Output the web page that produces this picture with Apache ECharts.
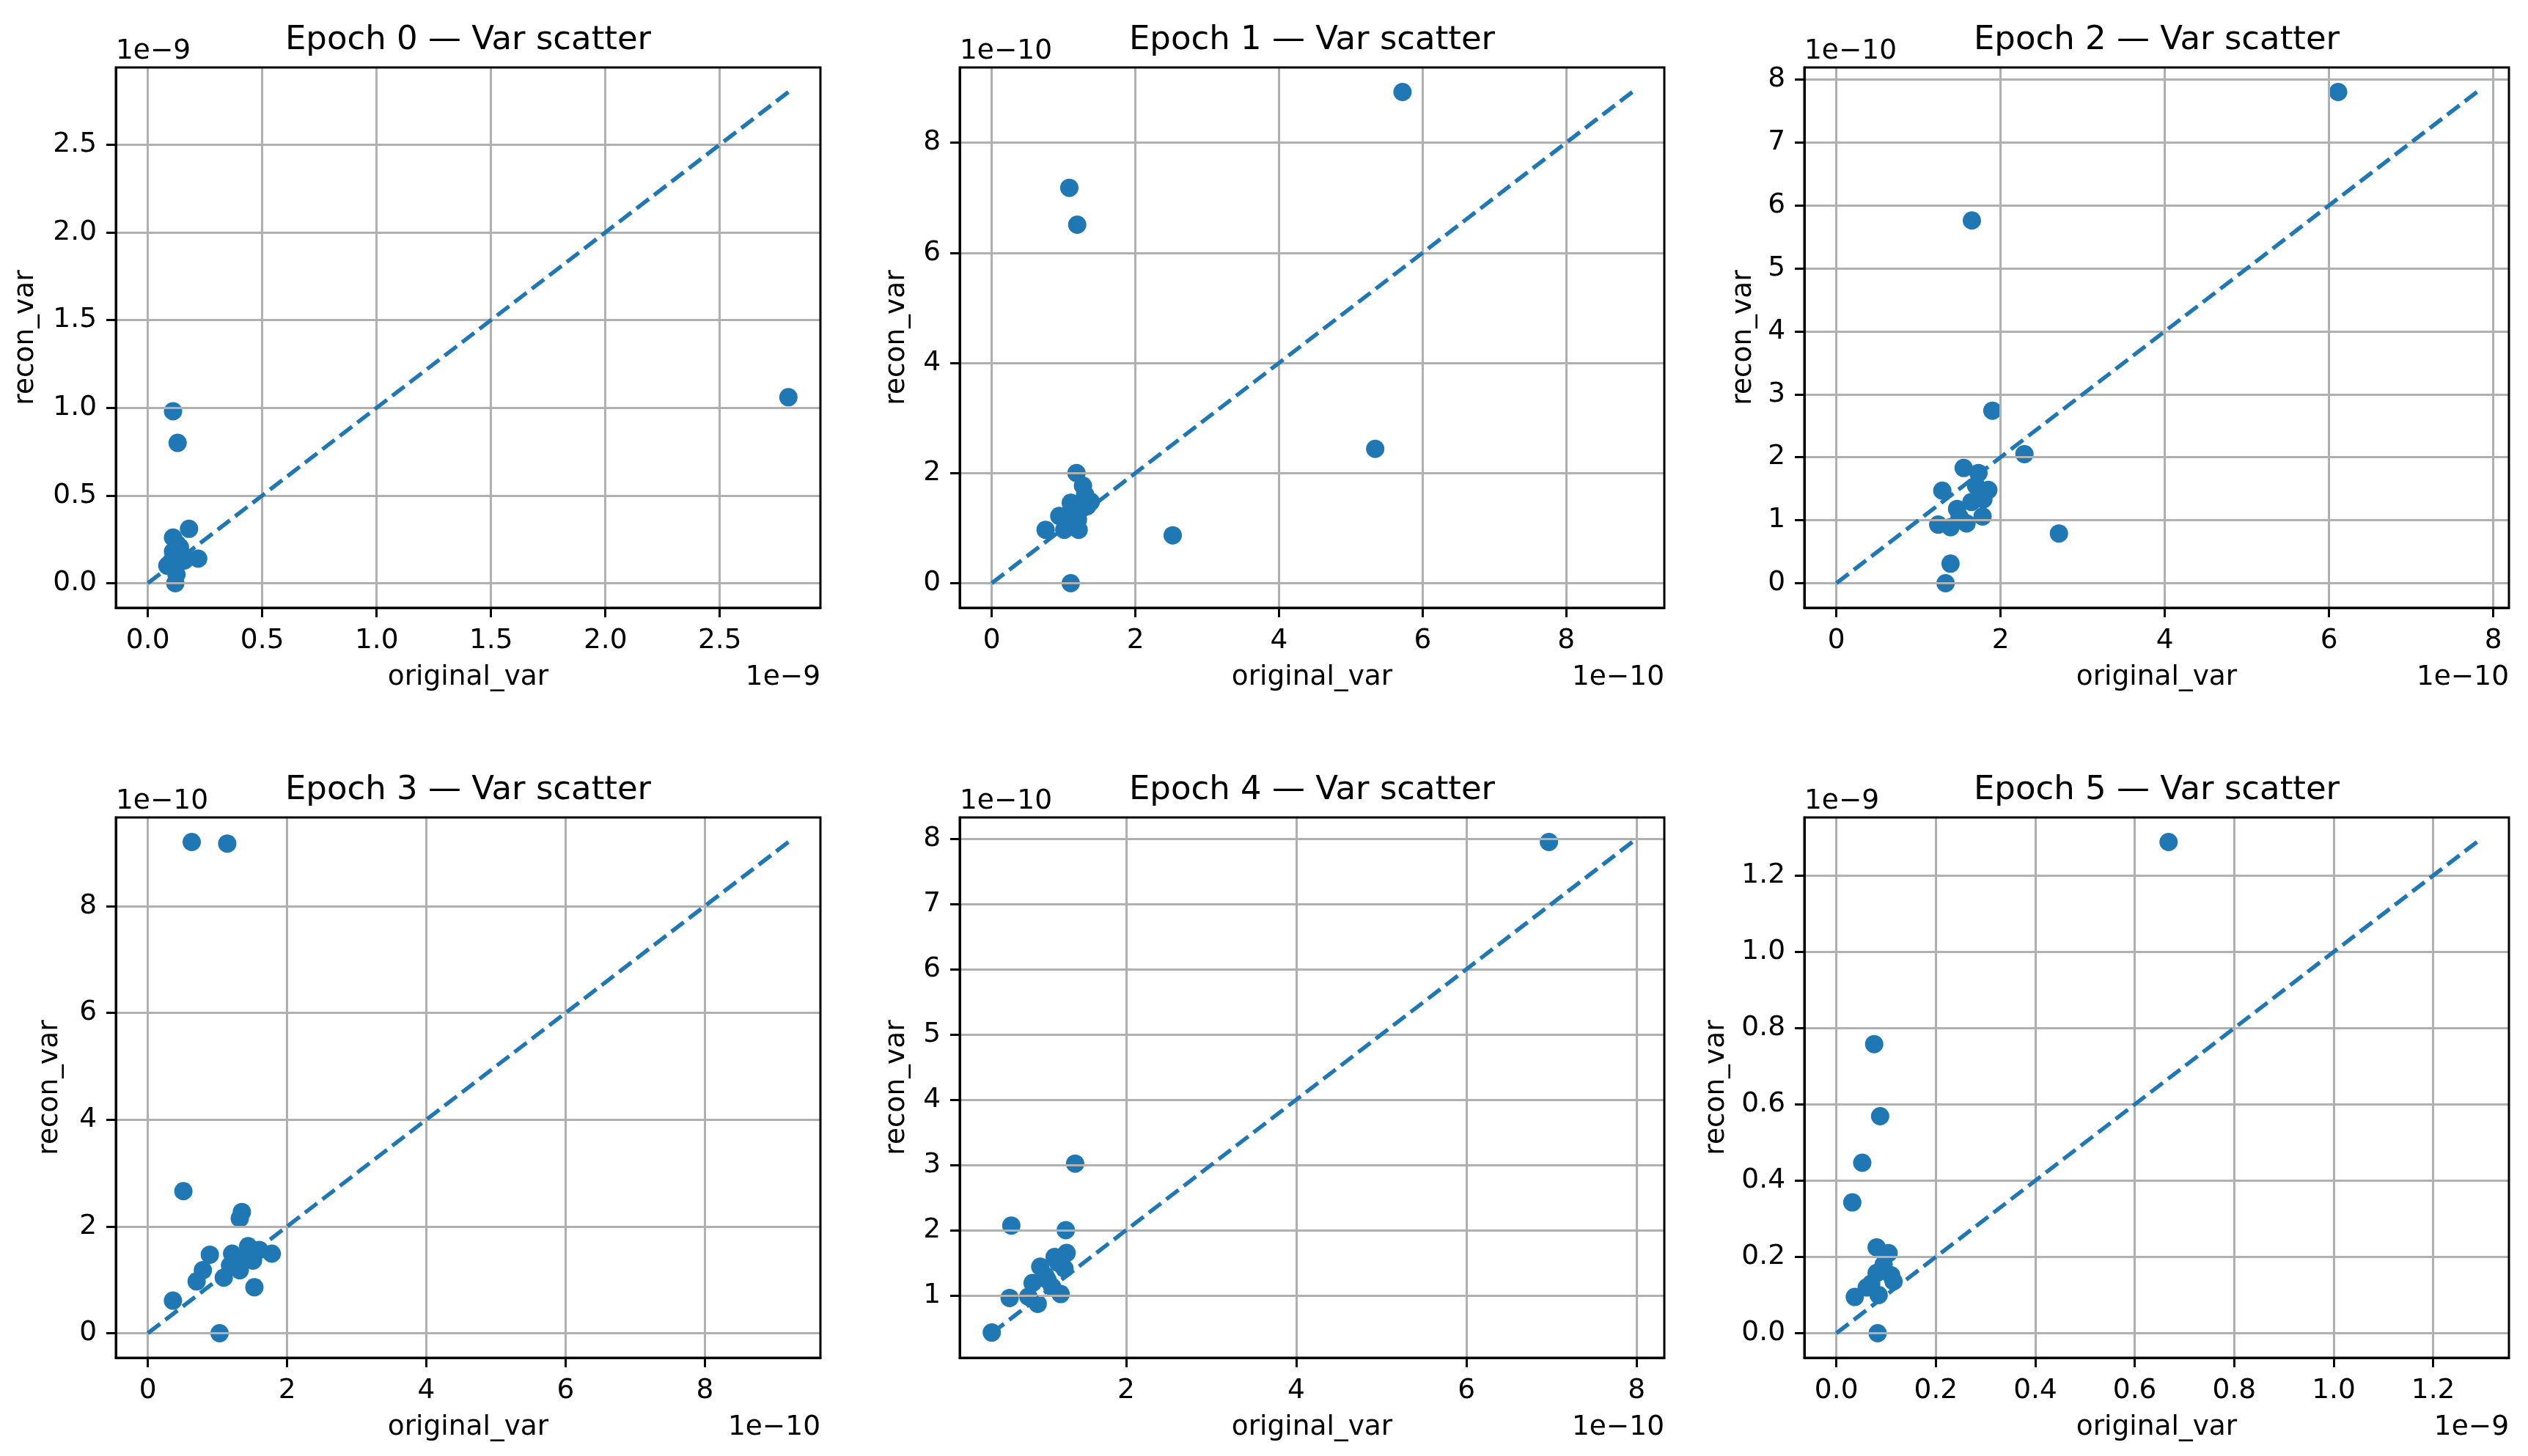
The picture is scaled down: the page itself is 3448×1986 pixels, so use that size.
<!DOCTYPE html>
<html>
<head>
<meta charset="utf-8">
<script src="https://cdn.jsdelivr.net/npm/echarts@6/dist/echarts.min.js"></script>
<style>
html, body { margin: 0; padding: 0; background: #fff; }
#chart { width: 3448px; height: 1986px; }
</style>
</head>
<body>
<div id="chart"></div>
<script>
// values are in units of 10^exponent (the matplotlib offset text)
const titles = ['Epoch 0 — Var scatter', 'Epoch 1 — Var scatter', 'Epoch 2 — Var scatter',
                'Epoch 3 — Var scatter', 'Epoch 4 — Var scatter', 'Epoch 5 — Var scatter'];
const exponents = [-9, -10, -10, -10, -10, -9];

const epoch0X = [0.11, 0.13, 0.18, 0.11, 0.22, 0.085, 0.12, 0.14, 0.165, 0.11, 0.125, 0.10, 0.15, 0.13, 0.16, 2.80];
const epoch0Y = [0.98, 0.80, 0.31, 0.26, 0.14, 0.10, 0.00, 0.205, 0.14, 0.18, 0.05, 0.12, 0.16, 0.22, 0.13, 1.06];

const epoch1X = [1.08, 1.19, 5.72, 5.34, 2.52, 1.18, 1.27, 1.38, 1.10, 0.94, 0.75, 1.01, 1.21, 1.16, 1.30, 1.10, 1.25, 1.33, 1.05, 1.20];
const epoch1Y = [7.18, 6.51, 8.92, 2.44, 0.87, 2.00, 1.77, 1.48, 1.46, 1.22, 0.97, 0.97, 0.97, 1.26, 1.61, 0.00, 1.35, 1.40, 1.10, 1.15];

const epoch2X = [6.11, 1.65, 1.90, 2.29, 2.71, 1.55, 1.29, 1.85, 1.73, 1.24, 1.39, 1.585, 1.78, 1.47, 1.645, 1.79, 1.39, 1.33, 1.50, 1.70];
const epoch2Y = [7.80, 5.76, 2.74, 2.05, 0.79, 1.83, 1.47, 1.48, 1.75, 0.93, 0.89, 0.95, 1.06, 1.18, 1.29, 1.33, 0.31, 0.00, 1.05, 1.55];

const epoch3X = [0.63, 1.14, 0.51, 1.35, 1.32, 0.89, 0.79, 0.70, 0.36, 1.09, 1.21, 1.44, 1.78, 1.60, 1.32, 1.51, 1.53, 1.03, 1.18, 1.40];
const epoch3Y = [9.20, 9.17, 2.66, 2.27, 2.15, 1.47, 1.18, 0.97, 0.61, 1.04, 1.49, 1.63, 1.49, 1.56, 1.18, 1.36, 0.86, 0.00, 1.27, 1.40];

const epoch4X = [6.97, 1.40, 0.65, 1.29, 1.30, 1.16, 0.99, 1.275, 0.90, 1.075, 0.63, 0.96, 1.23, 0.85, 1.13, 0.42, 1.05, 1.20];
const epoch4Y = [7.95, 3.02, 2.07, 2.00, 1.65, 1.59, 1.44, 1.41, 1.19, 1.24, 0.96, 0.87, 1.02, 0.98, 1.13, 0.43, 1.30, 1.50];

const epoch5X = [0.668, 0.076, 0.088, 0.052, 0.032, 0.081, 0.105, 0.110, 0.081, 0.061, 0.037, 0.085, 0.115, 0.083, 0.095, 0.070];
const epoch5Y = [1.288, 0.758, 0.569, 0.447, 0.343, 0.225, 0.210, 0.152, 0.158, 0.120, 0.095, 0.100, 0.136, 0.000, 0.180, 0.130];

// tick values per subplot
const xTicks = [
    [0, 0.5, 1.0, 1.5, 2.0, 2.5],
    [0, 2, 4, 6, 8],
    [0, 2, 4, 6, 8],
    [0, 2, 4, 6, 8],
    [2, 4, 6, 8],
    [0, 0.2, 0.4, 0.6, 0.8, 1.0, 1.2]
];
const yTicks = [
    [0, 0.5, 1.0, 1.5, 2.0, 2.5],
    [0, 2, 4, 6, 8],
    [0, 1, 2, 3, 4, 5, 6, 7, 8],
    [0, 2, 4, 6, 8],
    [1, 2, 3, 4, 5, 6, 7, 8],
    [0, 0.2, 0.4, 0.6, 0.8, 1.0, 1.2]
];
const tickDecimals = [1, 0, 0, 0, 0, 1];

const allX = [epoch0X, epoch1X, epoch2X, epoch3X, epoch4X, epoch5X];
const allY = [epoch0Y, epoch1Y, epoch2Y, epoch3Y, epoch4Y, epoch5Y];

// layout
const colLeft = [158, 1309, 2461];
const rowTop = [92, 1115];
const gridW = 961;
const gridH = 737;
const yNameGap = [104, 67, 64, 71, 67, 101];
const FONT = 'DejaVu Sans, sans-serif';
const BLUE = '#1f77b4';

const chart = echarts.init(document.getElementById('chart'));

const grids = [], xAxes = [], yAxes = [], series = [], graphics = [];

for (let i = 0; i < 6; i++) {
    const left = colLeft[i % 3];
    const top = rowTop[Math.floor(i / 3)];
    const xs = allX[i], ys = allY[i];
    const lo = Math.min(Math.min(...xs), Math.min(...ys));
    const hi = Math.max(Math.max(...xs), Math.max(...ys));
    const pad = 0.05 * (hi - lo);
    const dec = tickDecimals[i];

    grids.push({ left: left, top: top, width: gridW, height: gridH, containLabel: false });

    const axisCommon = {
        type: 'value',
        gridIndex: i,
        min: lo - pad,
        max: hi + pad,
        axisLine: { show: true, onZero: false, lineStyle: { color: '#000', width: 3 } },
        axisTick: { show: true, length: 13, lineStyle: { color: '#000', width: 3 } },
        axisLabel: {
            show: true, margin: 26, fontSize: 37.5, fontFamily: FONT, color: '#000',
            formatter: v => v.toFixed(dec)
        },
        splitLine: { show: true, lineStyle: { color: '#b0b0b0', width: 3 } },
        nameTextStyle: { fontSize: 37.5, fontFamily: FONT, color: '#000' },
        nameLocation: 'middle'
    };

    xAxes.push(Object.assign({}, axisCommon, {
        position: 'bottom',
        name: 'original_var',
        nameGap: 76,
        axisTick: Object.assign({}, axisCommon.axisTick, { customValues: xTicks[i] }),
        axisLabel: Object.assign({}, axisCommon.axisLabel, { customValues: xTicks[i] })
    }));
    yAxes.push(Object.assign({}, axisCommon, {
        position: 'left',
        name: 'recon_var',
        nameRotate: 90,
        nameGap: yNameGap[i],
        axisTick: Object.assign({}, axisCommon.axisTick, { customValues: yTicks[i] }),
        axisLabel: Object.assign({}, axisCommon.axisLabel, { customValues: yTicks[i] })
    }));

    // box: top and right spines
    graphics.push({
        type: 'rect', silent: true, z: 10,
        shape: { x: left, y: top, width: gridW, height: gridH },
        style: { fill: 'none', stroke: '#000', lineWidth: 3 }
    });

    series.push({
        type: 'scatter',
        xAxisIndex: i, yAxisIndex: i,
        z: -1,
        symbol: 'circle',
        symbolSize: 25,
        itemStyle: { color: BLUE, opacity: 1 },
        data: xs.map((x, k) => [x, ys[k]])
    });
    series.push({
        type: 'line',
        xAxisIndex: i, yAxisIndex: i,
        z: 5,
        symbol: 'none',
        lineStyle: { color: BLUE, width: 5.5, type: [21, 9] },
        data: [[lo, lo], [hi, hi]]
    });

    const expText = '1e\u2212' + String(-exponents[i]);
    graphics.push({
        type: 'text', silent: true,
        x: left, y: top - 22,
        style: { text: expText, font: '37.5px ' + FONT, fill: '#000', align: 'left', verticalAlign: 'middle' }
    });
    graphics.push({
        type: 'text', silent: true,
        x: left + gridW, y: top + gridH + 95,
        style: { text: expText, font: '37.5px ' + FONT, fill: '#000', align: 'right', verticalAlign: 'middle' }
    });
    graphics.push({
        type: 'text', silent: true,
        x: left + gridW / 2, y: top - 37,
        style: { text: titles[i], font: '45px ' + FONT, fill: '#000', align: 'center', verticalAlign: 'middle' }
    });
}

chart.setOption({
    backgroundColor: '#fff',
    animation: false,
    grid: grids,
    xAxis: xAxes,
    yAxis: yAxes,
    series: series,
    graphic: graphics
});
</script>
</body>
</html>
